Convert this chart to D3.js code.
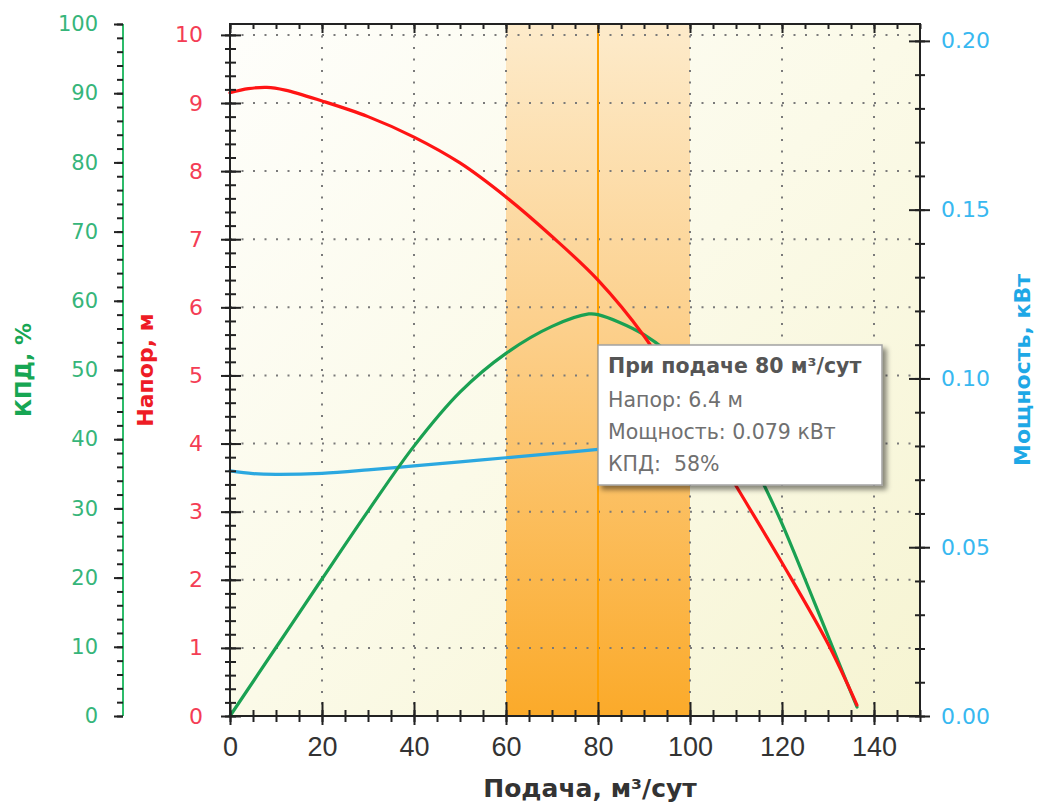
<!DOCTYPE html>
<html>
<head>
<meta charset="utf-8">
<script src="https://cdn.jsdelivr.net/npm/d3@7"></script>
<style>
  body { margin: 0; background: #fff; }
  svg { display: block; }
</style>
</head>
<body>
<svg id="chart" width="1041" height="805"></svg>
<script>
// Pump performance curves: head, shaft power and efficiency versus flow rate

// Tick labels
const flowTicks = [0, 20, 40, 60, 80, 100, 120, 140];
const headTicks = [0, 1, 2, 3, 4, 5, 6, 7, 8, 9, 10];
const effTicks = [0, 10, 20, 30, 40, 50, 60, 70, 80, 90, 100];
const powerTicks = [0, 0.05, 0.10, 0.15, 0.20];

// Head curve, м
const headFlow   = [0,    4,    8,    12,   20,   30,   40,   50,   60,   70,   80,  90,   100,  110,  120,  130,  136.3];
const headValues = [9.15, 9.21, 9.23, 9.19, 9.03, 8.80, 8.50, 8.12, 7.62, 7.04, 6.4, 5.58, 4.52, 3.38, 2.25, 1.06, 0.16];

// Efficiency curve, %
const effFlow   = [0, 10,  20,   30,   40,   50,   60,   70,   78,   80, 90,   100,  110,  116.3, 120,  127,  134, 136.3];
const effValues = [0, 9.9, 19.8, 29.6, 39.0, 46.8, 52.4, 56.3, 58.1, 58, 55.1, 49.6, 41.3, 33.1,  27.8, 16.5, 5.0, 1.3];

// Power curve, кВт
const powerFlow   = [0,      5,      10,     20,     30,     40,     50,     60,     70,     80,    90,     100,   110,    120,    130,    136.3];
const powerValues = [0.0726, 0.0718, 0.0716, 0.0719, 0.0729, 0.0741, 0.0753, 0.0765, 0.0777, 0.079, 0.0801, 0.081, 0.0818, 0.0824, 0.0828, 0.0830];

// Recommended operating range and the selected duty point
const workZone = [60, 100];
const selectedFlow = 80;

// Plot frame
const frame = { left: 230, right: 920, top: 24, bottom: 716 };
const flowMax = 150, headMax = 10.16, effMax = 100, powerMax = 0.205;

const colors = {
  head: "#ff1414", headLabel: "#f43d55", headTitle: "#ee1c25",
  eff: "#1aa152", effLabel: "#36b57a", effTitle: "#17a653", effAxis: "#2dbb6a",
  power: "#2ba8e0", powerLabel: "#38b8f0", powerTitle: "#1ea8e6",
  ink: "#222"
};

const svg = d3.select("#chart");

const x = d3.scaleLinear().domain([0, flowMax]).range([frame.left, frame.right]);
const yHead = d3.scaleLinear().domain([0, headMax]).range([frame.bottom, frame.top]);
const yEff = d3.scaleLinear().domain([0, effMax]).range([frame.bottom, frame.top]);
const yPower = d3.scaleLinear().domain([0, powerMax]).range([frame.bottom, frame.top]);

// Gradients
const defs = svg.append("defs");
const bg = defs.append("linearGradient").attr("id", "plotBg")
  .attr("x1", "0").attr("y1", "0").attr("x2", "1").attr("y2", "1");
bg.append("stop").attr("offset", "0").attr("stop-color", "#fefefb");
bg.append("stop").attr("offset", "0.5").attr("stop-color", "#fbfae8");
bg.append("stop").attr("offset", "1").attr("stop-color", "#f6f4d2");

const band = defs.append("linearGradient").attr("id", "zoneBg")
  .attr("x1", "0").attr("y1", "0").attr("x2", "0").attr("y2", "1");
band.append("stop").attr("offset", "0").attr("stop-color", "#fdebcb");
band.append("stop").attr("offset", "0.45").attr("stop-color", "#fccf8a");
band.append("stop").attr("offset", "1").attr("stop-color", "#fbaa2a");

const shadow = defs.append("filter").attr("id", "tipShadow")
  .attr("x", "-10%").attr("y", "-10%").attr("width", "130%").attr("height", "140%");
shadow.append("feDropShadow").attr("dx", 4).attr("dy", 4).attr("stdDeviation", 2.5)
  .attr("flood-color", "#000").attr("flood-opacity", 0.45);

// Plot background
svg.append("rect")
  .attr("x", frame.left).attr("y", frame.top)
  .attr("width", frame.right - frame.left).attr("height", frame.bottom - frame.top)
  .attr("fill", "url(#plotBg)");

// Operating range band
svg.append("rect")
  .attr("x", x(workZone[0])).attr("y", frame.top)
  .attr("width", x(workZone[1]) - x(workZone[0])).attr("height", frame.bottom - frame.top)
  .attr("fill", "url(#zoneBg)");

// Dotted grid
const grid = svg.append("g").attr("stroke", "#7a7a7a").attr("stroke-width", 2)
  .attr("stroke-dasharray", "2 9.5").attr("fill", "none");
grid.selectAll(".hg").data(headTicks.filter(d => d > 0)).join("line")
  .attr("x1", frame.left).attr("x2", frame.right)
  .attr("y1", d => yHead(d)).attr("y2", d => yHead(d));
grid.selectAll(".vg").data(flowTicks.filter(d => d > 0)).join("line")
  .attr("y1", frame.top).attr("y2", frame.bottom)
  .attr("x1", d => x(d)).attr("x2", d => x(d));

// Selected flow marker
svg.append("line")
  .attr("x1", x(selectedFlow)).attr("x2", x(selectedFlow))
  .attr("y1", frame.top).attr("y2", frame.bottom)
  .attr("stroke", "#ffa000").attr("stroke-width", 2);

// Curves
function curve(flow, values, y, color) {
  const line = d3.line().x(d => x(d[0])).y(d => y(d[1])).curve(d3.curveCatmullRom.alpha(0.5));
  svg.append("path")
    .datum(d3.zip(flow, values))
    .attr("d", line)
    .attr("fill", "none")
    .attr("stroke", color)
    .attr("stroke-width", 3.2)
    .attr("stroke-linejoin", "round")
    .attr("stroke-linecap", "round");
}
curve(powerFlow, powerValues, yPower, colors.power);
curve(effFlow, effValues, yEff, colors.eff);
curve(headFlow, headValues, yHead, colors.head);

// Frame
svg.append("rect")
  .attr("x", frame.left).attr("y", frame.top)
  .attr("width", frame.right - frame.left).attr("height", frame.bottom - frame.top)
  .attr("fill", "none").attr("stroke", colors.ink).attr("stroke-width", 2);

// Axis helpers
function ticksOnly(g) {
  g.select(".domain").remove();
  g.selectAll(".tick line").attr("stroke", colors.ink).attr("stroke-width", 2);
  return g;
}
const none = () => "";
const headMinor = d3.range(0, 50.5, 1).map(i => i / 5);
const effMinor = d3.range(0, 101, 2);
const powerMinor = d3.range(0, 20.5, 1).map(i => i / 100);
const flowMinor = d3.range(0, 151, 5);

// Flow axis (bottom and top edges)
const gx = svg.append("g").attr("transform", `translate(0,${frame.bottom})`);
gx.append("g").call(d3.axisBottom(x).tickValues(flowMinor).tickSize(6).tickFormat(none)).call(ticksOnly);
gx.append("g").call(d3.axisTop(x).tickValues(flowMinor).tickSize(6).tickFormat(none)).call(ticksOnly);
gx.append("g").call(d3.axisTop(x).tickValues(flowTicks).tickSize(14).tickFormat(none)).call(ticksOnly);
gx.append("g").call(d3.axisBottom(x).tickValues(flowTicks).tickSize(9).tickPadding(12).tickFormat(d3.format("d")))
  .call(ticksOnly)
  .call(g => g.selectAll("text").attr("fill", "#333")
    .style("font-family", "'Liberation Sans', Arial, sans-serif").style("font-size", "27px"));

const gxt = svg.append("g").attr("transform", `translate(0,${frame.top})`);
gxt.append("g").call(d3.axisBottom(x).tickValues(flowMinor).tickSize(5).tickFormat(none)).call(ticksOnly);
gxt.append("g").call(d3.axisBottom(x).tickValues(flowTicks).tickSize(9).tickFormat(none)).call(ticksOnly);

// Head axis
const gh = svg.append("g").attr("transform", `translate(${frame.left},0)`);
gh.append("g").call(d3.axisLeft(yHead).tickValues(headMinor).tickSize(5).tickFormat(none)).call(ticksOnly);
gh.append("g").call(d3.axisRight(yHead).tickValues(headMinor).tickSize(6).tickFormat(none)).call(ticksOnly);
gh.append("g").call(d3.axisRight(yHead).tickValues(headTicks).tickSize(11).tickFormat(none)).call(ticksOnly);
gh.append("g").call(d3.axisLeft(yHead).tickValues(headTicks).tickSize(9).tickPadding(18).tickFormat(d3.format("d")))
  .call(ticksOnly)
  .call(g => g.selectAll("text").attr("fill", colors.headLabel)
    .style("font-family", "'DejaVu Sans', sans-serif").style("font-size", "22px"));

// Efficiency axis
const ge = svg.append("g").attr("transform", "translate(123,0)");
ge.append("line").attr("y1", frame.top).attr("y2", frame.bottom)
  .attr("stroke", colors.effAxis).attr("stroke-width", 2);
ge.append("g").call(d3.axisLeft(yEff).tickValues(effMinor).tickSize(6).tickFormat(none)).call(ticksOnly);
ge.append("g").call(d3.axisLeft(yEff).tickValues(effTicks).tickSize(9).tickPadding(16).tickFormat(d3.format("d")))
  .call(ticksOnly)
  .call(g => g.selectAll("text").attr("fill", colors.effLabel)
    .style("font-family", "'DejaVu Sans', sans-serif").style("font-size", "21px"));

// Power axis
const gp = svg.append("g").attr("transform", `translate(${frame.right},0)`);
gp.append("g").call(d3.axisLeft(yPower).tickValues(powerMinor).tickSize(5).tickFormat(none)).call(ticksOnly);
gp.append("g").call(d3.axisRight(yPower).tickValues(powerMinor).tickSize(5).tickFormat(none)).call(ticksOnly);
gp.append("g").call(d3.axisLeft(yPower).tickValues(powerTicks).tickSize(11).tickFormat(none)).call(ticksOnly);
gp.append("g").call(d3.axisRight(yPower).tickValues(powerTicks).tickSize(10).tickPadding(11).tickFormat(d3.format(".2f")))
  .call(ticksOnly)
  .call(g => g.selectAll("text").attr("fill", colors.powerLabel)
    .style("font-family", "'DejaVu Sans', sans-serif").style("font-size", "22px"));

// Axis titles
const titleFont = "'DejaVu Sans', sans-serif";
const midY = (frame.top + frame.bottom) / 2;
function vTitle(cx, text, color) {
  svg.append("text")
    .attr("transform", `translate(${cx},${midY}) rotate(-90)`)
    .attr("text-anchor", "middle").attr("dominant-baseline", "central")
    .attr("fill", color)
    .style("font-family", titleFont).style("font-weight", "bold").style("font-size", "22px")
    .text(text);
}
vTitle(23, "КПД, %", colors.effTitle);
vTitle(145, "Напор, м", colors.headTitle);
vTitle(1022, "Мощность, кВт", colors.powerTitle);

svg.append("text")
  .attr("x", 590).attr("y", 797)
  .attr("text-anchor", "middle")
  .attr("fill", "#333")
  .style("font-family", titleFont).style("font-weight", "bold").style("font-size", "25px")
  .text("Подача, м³/сут");

// Tooltip at the selected duty point
const idxHead = headFlow.indexOf(selectedFlow);
const idxEff = effFlow.indexOf(selectedFlow);
const idxPower = powerFlow.indexOf(selectedFlow);
const tipLines = [
  `Напор: ${headValues[idxHead]} м`,
  `Мощность: ${powerValues[idxPower].toFixed(3)} кВт`,
  `КПД:  ${Math.round(effValues[idxEff])}%`
];
const tip = svg.append("g").attr("transform", `translate(${x(selectedFlow)},345)`);
tip.append("rect")
  .attr("width", 284).attr("height", 140)
  .attr("fill", "#fff").attr("stroke", "#a3a3a3").attr("stroke-width", 1.5)
  .attr("filter", "url(#tipShadow)");
tip.append("text")
  .attr("x", 10).attr("y", 28)
  .attr("fill", "#555")
  .style("font-family", "'DejaVu Sans', sans-serif").style("font-weight", "bold").style("font-size", "20.5px")
  .text(`При подаче ${selectedFlow} м³/сут`);
tip.selectAll(".line").data(tipLines).join("text")
  .attr("x", 10).attr("y", (d, i) => 62 + i * 32)
  .attr("fill", "#707070")
  .style("font-family", "'DejaVu Sans', sans-serif").style("font-size", "20.5px")
  .style("white-space", "pre")
  .text(d => d);
</script>
</body>
</html>
